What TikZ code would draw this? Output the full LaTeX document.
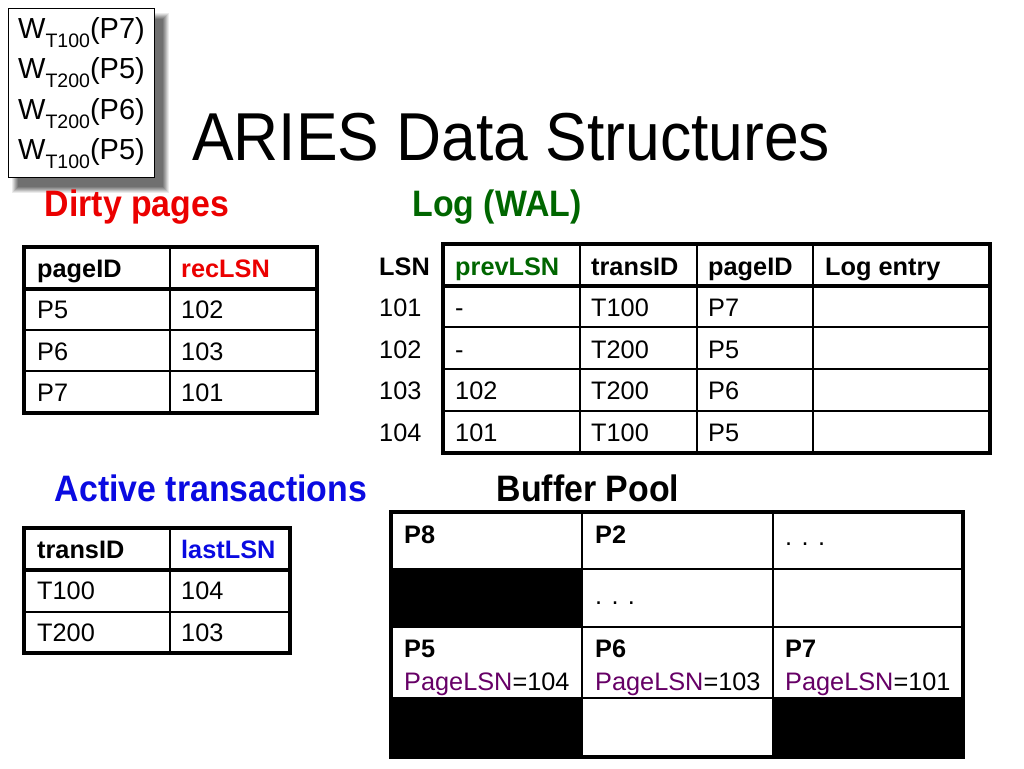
\documentclass[tikz,border=0pt]{standalone}
\usepackage{fontspec}
\setmainfont{Liberation Sans}
\newfontfamily\condfont{Liberation Sans}[FakeStretch=0.92]
\definecolor{dirtyred}{RGB}{235,0,0}
\definecolor{loggreen}{RGB}{0,102,0}
\definecolor{actblue}{RGB}{10,10,225}
\definecolor{pagepurple}{RGB}{102,0,102}
\tikzset{
    %Define style for table texts
    celltxt/.style={
           anchor=base west,
           inner sep=0pt,
           font=\fontsize{25.3}{30}\selectfont},
    headtxt/.style={
           celltxt,
           font=\fontsize{25.3}{30}\selectfont\bfseries},
    %captions above the tables
    captxt/.style={
           inner sep=0pt,
           font=\condfont\fontsize{36.8}{43}\selectfont\bfseries},
    % Define line styles
    tabframe/.style={line width=4pt},
    gridline/.style={line width=1.5pt},
    %box with the writes
    wbox/.style={
           rectangle,
           draw=black, line width=1pt,
           fill=white,
           anchor=north west,
           minimum width=146pt,
           minimum height=169pt,
           align=left,
           font=\fontsize{29}{40.5}\selectfont}
}
\newcommand{\wsub}[1]{\raisebox{-0.3em}{\fontsize{19.5}{19.5}\selectfont #1}}

\begin{document}
\begin{tikzpicture}[x=1pt,y=-1pt]
\useasboundingbox (0,0) rectangle (1024,768);

%soft shadow behind the box
\fill[black!8]  (12,13) rectangle (169,193);
\fill[black!16] (13,14) rectangle (168,192);
\fill[black!25] (14,15) rectangle (167,191);
\fill[black!34] (15,16) rectangle (166,190);
\fill[black!42] (16,17) rectangle (165,189);
\fill[black!50] (17,18) rectangle (164,188);
\fill[black!56] (18,19) rectangle (163,187);
\node[wbox] (writes) at (8,8) {W\wsub{T100}(P7)\\W\wsub{T200}(P5)\\W\wsub{T200}(P6)\\W\wsub{T100}(P5)};
\node[inner sep=0pt, font=\condfont\fontsize{67.8}{72}\selectfont] (title) at (511,137) {ARIES Data Structures};

\node[captxt, text=dirtyred] (dirtycap) at (137,207) {Dirty pages};
\node[captxt, text=loggreen] (logcap) at (497,207) {Log (WAL)};
\node[captxt, text=actblue] (actcap) at (211,488) {Active transactions};
\node[captxt] (poolcap) at (588,488) {Buffer Pool};

%dirty pages table
\draw[gridline] (170,247) -- (170,413);
\foreach \y in {330,371} \draw[gridline] (24,\y) -- (317,\y);
\draw[tabframe] (24,289) -- (317,289);
\draw[tabframe] (24,247) rectangle (317,413);
\node[headtxt] (dpid) at (37,277) {pageID};
\node[headtxt, text=dirtyred] (dplsn) at (181,277) {recLSN};
\foreach \pg/\lsn [count=\i] in {P5/102,P6/103,P7/101}{
  \node[celltxt] (dpa\i) at (37,277+41.5*\i) {\pg};
  \node[celltxt] (dpb\i) at (181,277+41.5*\i) {\lsn};
}

%active transactions table
\draw[gridline] (170,528) -- (170,653);
\draw[gridline] (24,612) -- (290,612);
\draw[tabframe] (24,570) -- (290,570);
\draw[tabframe] (24,528) rectangle (290,653);
\node[headtxt] (atid) at (37,558) {transID};
\node[headtxt, text=actblue] (atlsn) at (181,558) {lastLSN};
\foreach \tr/\lsn [count=\i] in {T100/104,T200/103}{
  \node[celltxt] (ata\i) at (37,558+41.5*\i) {\tr};
  \node[celltxt] (atb\i) at (181,558+41.5*\i) {\lsn};
}

%log table
\foreach \x in {580,697,813} \draw[gridline] (\x,244) -- (\x,453);
\foreach \y in {327,369,411} \draw[gridline] (443,\y) -- (990,\y);
\draw[tabframe] (443,286) -- (990,286);
\draw[tabframe] (443,244) rectangle (990,453);
\node[headtxt] (lsnh) at (379,275) {LSN};
\node[headtxt, text=loggreen] (prevh) at (455,275) {prevLSN};
\node[headtxt] (trh) at (591,275) {transID};
\node[headtxt] (pgh) at (708,275) {pageID};
\node[headtxt] (entryh) at (825,275) {Log entry};
\foreach \lsn/\prev/\tr/\pg [count=\i] in {101/-/T100/P7,102/-/T200/P5,103/102/T200/P6,104/101/T100/P5}{
  \node[celltxt] (lsn\i) at (379,275+41.5*\i) {\lsn};
  \node[celltxt] (prev\i) at (455,275+41.5*\i) {\prev};
  \node[celltxt] (tr\i) at (591,275+41.5*\i) {\tr};
  \node[celltxt] (pg\i) at (708,275+41.5*\i) {\pg};
}

%buffer pool
\fill (391,569) rectangle (582,627);
\fill (391,698) rectangle (582,757);
\fill (773,698) rectangle (963,757);
\foreach \x in {582,773} \draw[gridline] (\x,512) -- (\x,757);
\foreach \y in {569,627,698} \draw[gridline] (391,\y) -- (963,\y);
\draw[tabframe] (391,512) rectangle (963,757);
\node[headtxt] (bp8) at (404,543) {P8};
\node[headtxt] (bp2) at (595,543) {P2};
\node[celltxt] (bpdotsa) at (785,545) {. . .};
\node[celltxt] (bpdotsb) at (595,604) {. . .};
\foreach \pg/\lsn/\x [count=\i] in {P5/104/404,P6/103/595,P7/101/785}{
  \node[headtxt] (bp\pg) at (\x,657) {\pg};
  \node[celltxt] (bplsn\i) at (\x,690) {\textcolor{pagepurple}{PageLSN}=\lsn};
}

\end{tikzpicture}
\end{document}
